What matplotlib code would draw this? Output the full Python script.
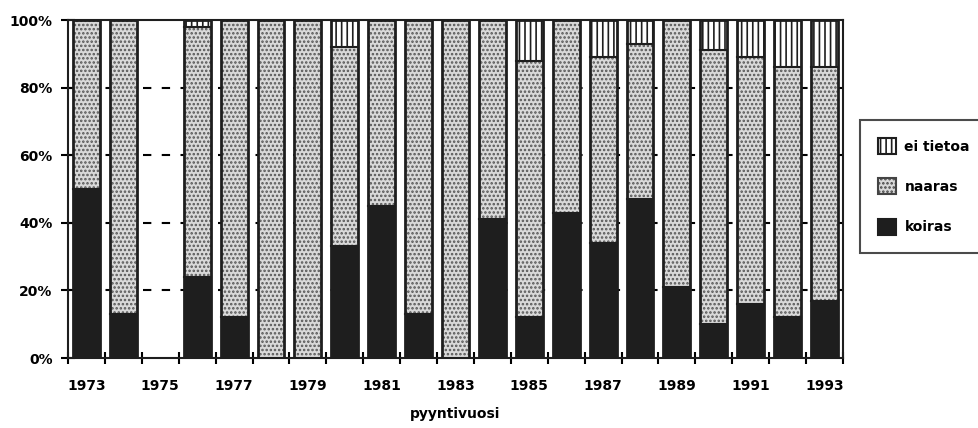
import numpy as np
import matplotlib
matplotlib.use("Agg")
import matplotlib.pyplot as plt
from matplotlib.patches import Patch

plt.rcParams['font.family'] = ['DejaVu Sans']
plt.rcParams['font.weight'] = 'bold'
plt.rcParams['hatch.linewidth'] = 1.2

vuodet = list(range(1973, 1994))
koiras = [50, 13, 0, 24, 12, 0, 0, 33, 45, 13, 0, 41, 12, 43, 34, 47, 21, 10, 16, 12, 17]
naaras = [50, 87, 0, 74, 88, 100, 100, 59, 55, 87, 100, 59, 76, 57, 55, 46, 79, 81, 73, 74, 69]
ei_tietoa = [0, 0, 0, 2, 0, 0, 0, 8, 0, 0, 0, 0, 12, 0, 11, 7, 0, 9, 11, 14, 14]

fig = plt.figure(figsize=(9.79, 4.28), dpi=100)
ax = fig.add_axes([68 / 979, 1 - 358 / 428, 775 / 979, 338 / 428])

x = np.arange(len(vuodet))
w = 0.73
k = np.array(koiras)
n = np.array(naaras)
e = np.array(ei_tietoa)

# dashed guide lines behind the bars
for g in [20, 40, 60, 80]:
    ax.axhline(g, color='black', lw=1.5, ls=(0, (4, 5)), zorder=0)

# fills first, black outlines on top
ax.bar(x, k, w, color='#1e1e1e', lw=0, zorder=2)
ax.bar(x, n, w, bottom=k, color='#d9d9d9', edgecolor='#555555', hatch='....', lw=0, zorder=2)
ax.bar(x, e, w, bottom=k + n, color='white', edgecolor='#1e1e1e', hatch='|||', lw=0, zorder=2)
tot = k + n + e
ax.bar(x[tot > 0], tot[tot > 0], w, fill=False, edgecolor='#1e1e1e', lw=2, zorder=3)
for xi, ki, ni in zip(x, k, n):
    if ki > 0 and ni > 0:
        ax.plot([xi - w / 2, xi + w / 2], [ki, ki], color='#1e1e1e', lw=1.5, zorder=3)
    if ki + ni < 100 and ki + ni > 0:
        ax.plot([xi - w / 2, xi + w / 2], [ki + ni, ki + ni], color='#1e1e1e', lw=1.5, zorder=3)

ax.set_xlim(-0.5, len(vuodet) - 0.5)
ax.set_ylim(0, 100)
ax.set_xticks(np.arange(-0.5, len(vuodet), 1.0))
ax.set_xticklabels([])
ax.set_xticks(x[::2], minor=True)
ax.set_xticklabels([str(v) for v in vuodet[::2]], minor=True, fontsize=10, fontweight='bold')
ax.tick_params(axis='x', which='major', direction='inout', length=8, width=1.5)
ax.tick_params(axis='x', which='minor', length=0, pad=15)
ax.set_yticks([0, 20, 40, 60, 80, 100])
ax.set_yticklabels(['0%', '20%', '40%', '60%', '80%', '100%'], fontsize=10, fontweight='bold')
ax.tick_params(axis='y', direction='inout', length=10, width=1.5, pad=6)
for s in ax.spines.values():
    s.set_linewidth(1.5)
    s.set_color('#1e1e1e')

ax.set_xlabel('pyyntivuosi', fontsize=10, fontweight='bold', labelpad=10)

handles = [
    Patch(facecolor='white', edgecolor='#1e1e1e', hatch='|||', lw=1.5),
    Patch(facecolor='#d9d9d9', edgecolor='#444444', hatch='....', lw=1.5),
    Patch(facecolor='#1e1e1e', edgecolor='#1e1e1e', lw=1.5),
]
leg = fig.legend(handles, ['ei tietoa', 'naaras', 'koiras'],
                 loc='upper left', bbox_to_anchor=(860 / 979, 1 - 120 / 428),
                 fontsize=10, frameon=True, fancybox=False, edgecolor='#1e1e1e',
                 handlelength=1.3, handleheight=1.4, handletextpad=0.6,
                 labelspacing=1.75, borderpad=1.3, borderaxespad=0)
leg.get_frame().set_linewidth(1.5)
for t in leg.get_texts():
    t.set_fontweight('bold')

fig.savefig('out.png', dpi=100)
